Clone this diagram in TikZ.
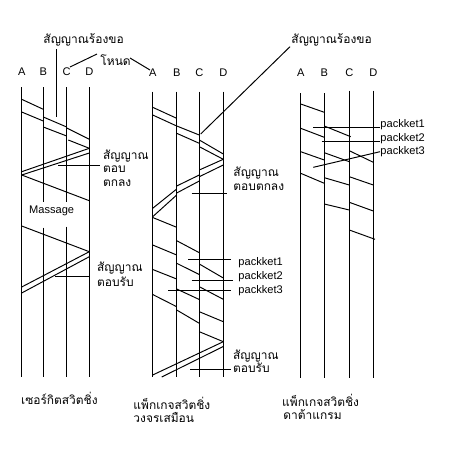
\documentclass[tikz,border=0pt]{standalone}
\usepackage{fontspec}
\setmainfont{Liberation Sans}
\newfontfamily\thai[Script=Thai]{Loma}
\tikzset{
  lbl/.style={inner sep=0pt, font=\fontsize{6.3}{7.5}\selectfont},
  thlbl/.style={inner sep=0pt, anchor=west, text height=5pt, text depth=1.5pt, font=\thai\fontsize{6.8}{7.6}\selectfont},
  pkt/.style={lbl, anchor=west, text height=5pt, text depth=1.5pt},
}
\begin{document}
\begin{tikzpicture}[x=0.02cm,y=-0.02cm,line width=0.55pt]
\useasboundingbox (0,0) rectangle (450,450);

% circuit switching
\foreach \n/\x in {A/21.7,B/43.3,C/66.7,D/89.3}
  \node[lbl] (c\n) at (\x,72) {\n};
\draw (21.7,87) -- (21.7,377);
\draw (89.3,87) -- (89.3,377);
\draw (43.3,87) -- (43.3,201.7) (43.3,227.5) -- (43.3,377);
\draw (66.7,87) -- (66.7,201.7) (66.7,226.7) -- (66.7,377);
\node[thlbl] (creq) at (43,40) {สัญญาณร้องขอ};
\node[thlbl] (nodelbl) at (100,62) {โหนด};
\draw (56,49) -- (56,117);
\draw (70,67) -- (97,54);
\draw (130,58) -- (150,70);
\draw (21.7,99.3) -- (43.3,109.3);
\draw (21.7,112) -- (43.3,121);
\draw (43.3,117) -- (66.7,127);
\draw (43.3,127) -- (66.7,136);
\draw (66.7,128) -- (89.3,139.3);
\draw (68.3,140) -- (89.3,148.3);
\draw (89.3,148.3) -- (21.7,171.7);
\draw (89.3,153) -- (21.7,175);
\node[thlbl] (cok1) at (102.7,156.7) {สัญญาณ};
\node[thlbl] (cok2) at (102.7,169.3) {ตอบ};
\node[thlbl] (cok3) at (102.7,183.3) {ตกลง};
\draw (58.3,165) -- (100,165);
\draw (21.7,175) -- (89.3,200.7);
\node[lbl] (cmsg) at (51.7,210.7) {Massage};
\draw (21.7,226) -- (89.3,251.7);
\draw (89.3,251.7) -- (21.7,287);
\draw (89.3,256.7) -- (21.7,293);
\node[thlbl] (cack1) at (96.7,268.3) {สัญญาณ};
\node[thlbl] (cack2) at (96.7,283.3) {ตอบรับ};
\draw (55,276.7) -- (90,276.7);
\node[thlbl] (ccap) at (20.7,401) {เซอร์กิตสวิตชิ่ง};

% virtual circuit
\foreach \n/\x in {A/152.7,B/176.7,C/199.3,D/223.3}{
  \node[lbl] (v\n) at (\x,72.7) {\n};
  \draw (\x,91.7) -- (\x,377);
}
\node[thlbl] (vreq) at (291,40) {สัญญาณร้องขอ};
\draw (290,46.7) -- (200.7,134);
\draw (152.7,107.3) -- (176.7,118.3);
\draw (152.7,115) -- (176.7,126);
\draw (176.7,126) -- (199.3,135);
\draw (176.7,133.3) -- (199.3,143.3);
\draw (199.3,140) -- (223.3,154);
\draw (199.3,146.7) -- (223.3,159.3);
\draw (223.3,159.3) -- (199.3,170);
\draw (223.3,165) -- (199.3,176.7);
\draw (199.3,175) -- (176.7,186);
\draw (199.3,181) -- (176.7,193);
\draw (176.7,189) -- (152.7,208.3);
\draw (176.7,195) -- (152.7,216.7);
\node[thlbl] (vok1) at (233,173) {สัญญาณ};
\node[thlbl] (vok2) at (233,187) {ตอบตกลง};
\draw (191.7,193.3) -- (226.7,193.3);
\draw (152.7,217.5) -- (176.7,227.3);
\draw (152.7,245) -- (176.7,255);
\draw (152.7,269.5) -- (176.7,279);
\draw (152.7,294.5) -- (176.7,306.7);
\draw (176.7,240.7) -- (199.3,252.7);
\draw (176.7,263.3) -- (199.3,274.5);
\draw (176.7,289) -- (199.3,299.5);
\draw (176.7,310) -- (199.3,323.3);
\draw (199.3,264) -- (223.3,278);
\draw (199.3,286.7) -- (223.3,299.3);
\draw (199.3,311.7) -- (223.3,321.7);
\draw (199.3,331.7) -- (223.3,341.7);
\node[pkt] (vp1) at (238,262.7) {packket1};
\node[pkt] (vp2) at (238,276.7) {packket2};
\node[pkt] (vp3) at (238,290.7) {packket3};
\draw (188.3,259) -- (230.7,259);
\draw (191.7,280) -- (232.7,280);
\draw (168.3,290) -- (230.7,290);
\draw (223.3,341.7) -- (152.7,375);
\draw (223.3,346.5) -- (161.7,377);
\node[thlbl] (vack1) at (232.7,356) {สัญญาณ};
\node[thlbl] (vack2) at (232.7,369) {ตอบรับ};
\draw (190,369.3) -- (230.7,369.3);
\node[thlbl] (vcap1) at (133,406.7) {แพ็กเกจสวิตชิ่ง};
\node[thlbl] (vcap2) at (133,419.5) {วงจรเสมือน};

% datagram
\foreach \n/\x/\t in {A/300.7/93.3,B/324.3/93.3,C/349.3/90.7,D/373.3/90.7}{
  \node[lbl] (d\n) at (\x,72.7) {\n};
  \draw (\x,\t) -- (\x,378);
}
\draw (300.7,104) -- (324.3,112.3);
\draw (300.7,128.3) -- (324.3,137.3);
\draw (300.7,151.7) -- (324.3,160);
\draw (300.7,173.3) -- (324.3,183.3);
\draw (324.3,126) -- (350.7,136.7);
\draw (324.3,152.7) -- (349.3,161.7);
\draw (324.3,177.7) -- (349.3,185);
\draw (324.3,204) -- (349.3,210);
\draw (349.3,150.7) -- (373.3,162.3);
\draw (349.3,176.7) -- (373.3,185);
\draw (349.3,202.3) -- (373.3,211);
\draw (349.3,230) -- (375,239.3);
\node[pkt] (dp1) at (380,124) {packket1};
\node[pkt] (dp2) at (380,138.3) {packket2};
\node[pkt] (dp3) at (380,151.7) {packket3};
\draw (313.3,127.3) -- (dp1.west |- 0,127.3);
\draw (321.7,141) -- (dp2.west |- 0,141);
\draw (313.3,167.3) -- (dp3.west);
\node[thlbl] (dcap1) at (281.7,403) {แพ็กเกจสวิตชิ่ง};
\node[thlbl] (dcap2) at (283,416) {ดาต้าแกรม};
\end{tikzpicture}
\end{document}
